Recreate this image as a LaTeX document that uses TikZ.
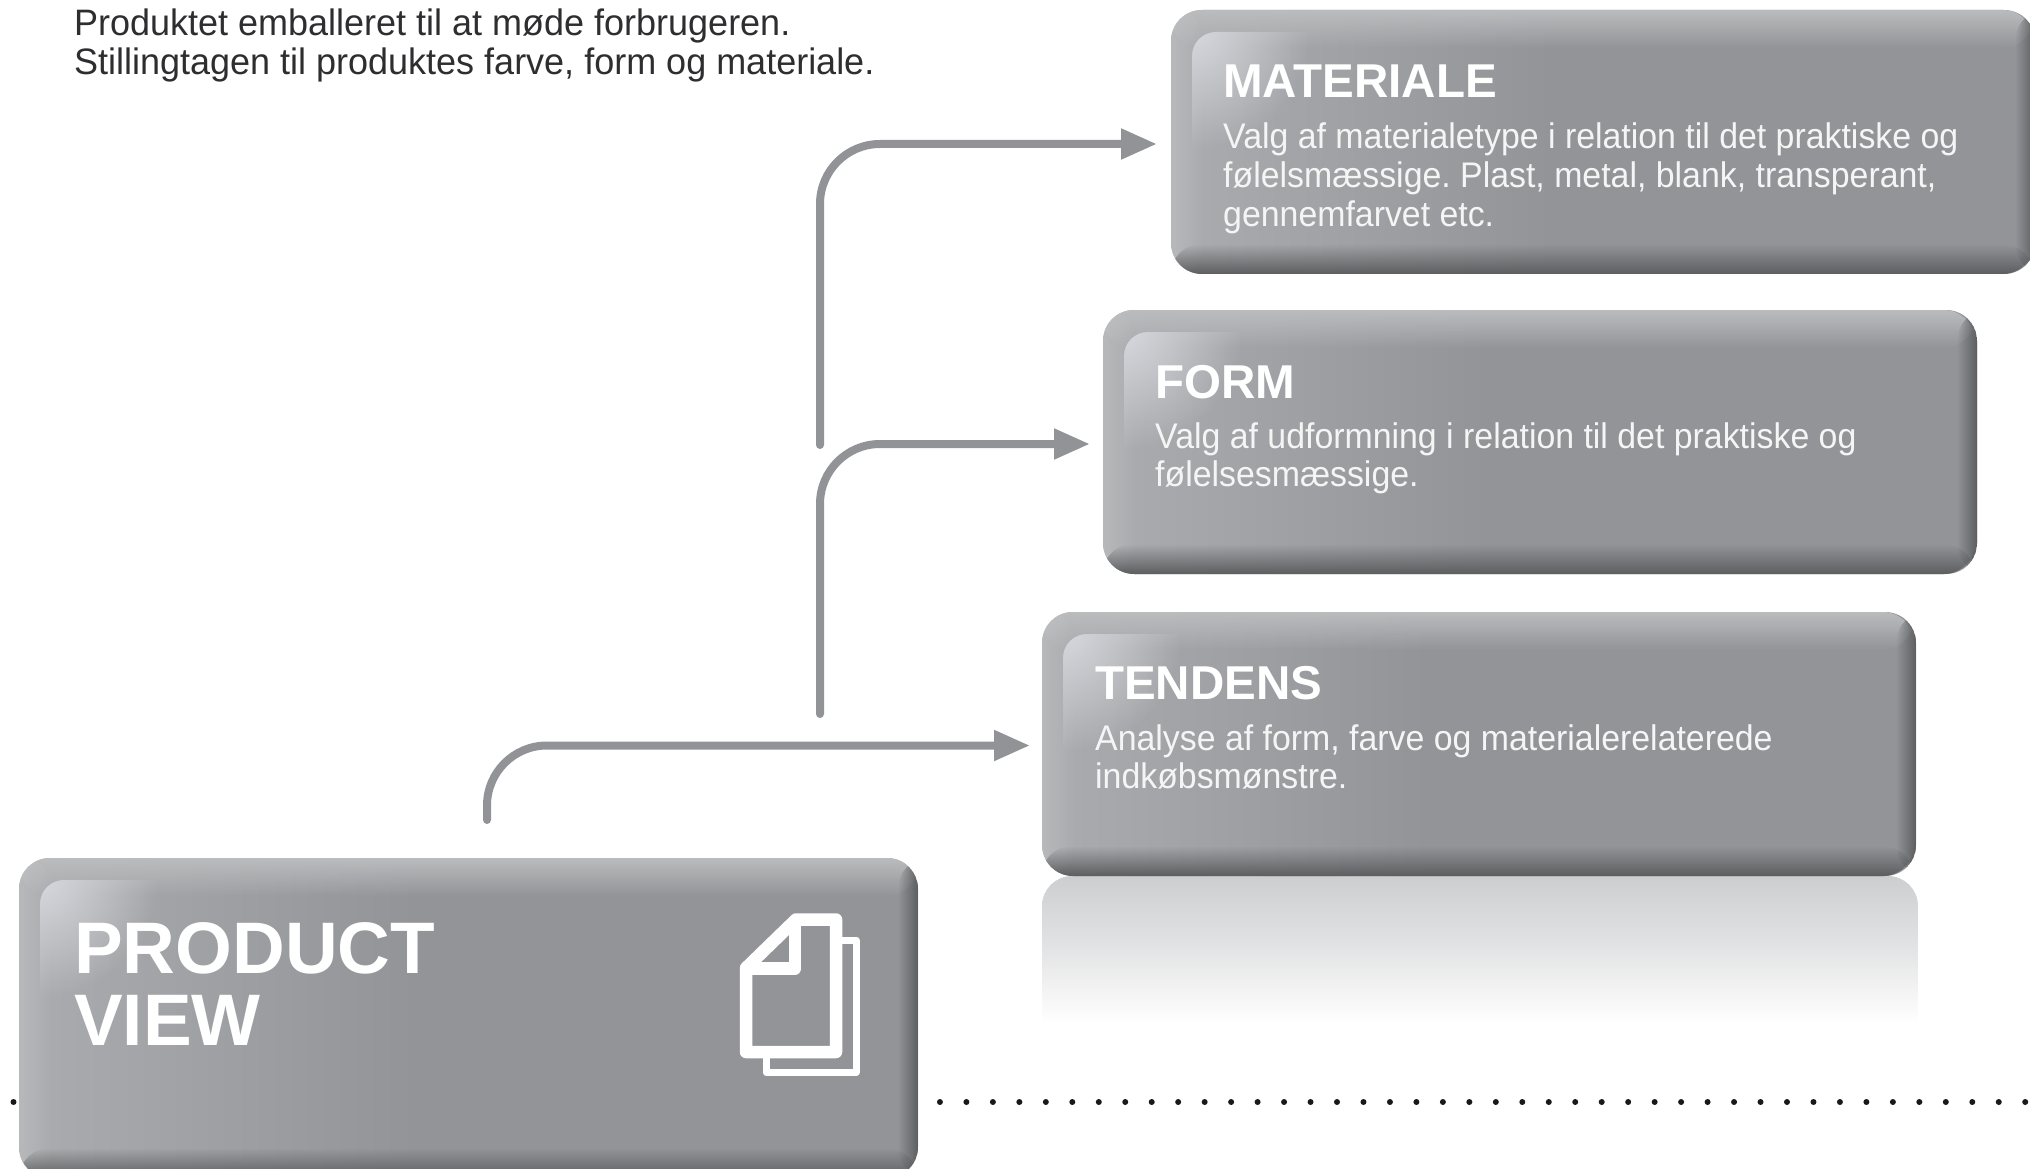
\documentclass[tikz,border=0pt]{standalone}
\usepackage{fontspec}
\setmainfont{Liberation Sans}
\newfontfamily\bodyfam[FakeStretch=0.951]{Liberation Sans}
\newfontfamily\headfam[FakeStretch=0.978]{Liberation Sans}
\usetikzlibrary{arrows.meta,fadings,calc}
\definecolor{boxlight}{HTML}{ABACAF}
\definecolor{boxmid}{HTML}{939498}
\definecolor{boxtop}{HTML}{BBBCBE}
\definecolor{boxdark}{HTML}{5D5E60}
\definecolor{boxglow}{HTML}{D6D8DD}
\definecolor{connector}{HTML}{929396}
\definecolor{reflect}{HTML}{CDCED0}
\definecolor{toptext}{HTML}{2E2E30}
\pgfdeclarehorizontalshading{boxbase}{100bp}{color(0bp)=(boxlight); color(25bp)=(boxlight); color(47bp)=(boxmid); color(100bp)=(boxmid)}
\tikzfading[name=glowfade, inner color=transparent!0, outer color=transparent!100]
\frenchspacing
\tikzset{
  x=1pt, y=-1pt,
  connline/.style={connector, line width=8pt, line cap=round, rounded corners=60pt,
    -{Triangle[length=36pt,width=29pt]}, shorten >=14pt},
  bodytext/.style={anchor=base west, inner sep=0pt, text=white!96!black, font=\bodyfam\frenchspacing\fontsize{35.6}{38.6}\selectfont},
  titletext/.style={anchor=base west, inner sep=0pt, text=white, font=\fontsize{47.5}{50}\bfseries\selectfont},
  bigtitle/.style={anchor=base west, inner sep=0pt, text=white, font=\fontsize{73}{72.5}\bfseries\selectfont},
  headtext/.style={anchor=base west, inner sep=0pt, text=toptext, font=\headfam\frenchspacing\fontsize{36.8}{38.5}\selectfont},
  glassbox/.style={anchor=north west, rounded corners=31pt, inner sep=0pt, outer sep=0pt,
    path picture={
      \path let \p1=(path picture bounding box.north west), \p2=(path picture bounding box.south east) in
        coordinate (nw) at (\p1) coordinate (se) at (\p2);
      \shade[shading=boxbase] (nw) rectangle (se);
      \fill[boxtop, path fading=south] (nw) rectangle ([yshift=-38pt]se|-nw);
      \fill[boxlight!70!white, opacity=.5, path fading=east] (nw) rectangle ([xshift=34pt]nw|-se);
      \fill[boxdark, path fading=north] ([yshift=30pt]nw|-se) rectangle (se);
      \fill[boxdark, path fading=west] ([xshift=-20pt]se|-nw) rectangle (se);
      \begin{scope}
        \clip[rounded corners=24pt] ([shift={(21pt,-22pt)}]nw) rectangle ([shift={(200pt,-200pt)}]nw);
        \fill[boxglow, path fading=glowfade] ([shift={(21pt,-22pt)}]nw) circle[radius=118pt];
      \end{scope}
    }},
}
\newcommand{\glass}[5]{\node[glassbox, minimum width=#4pt, minimum height=#5pt] (#1) at (#2,#3) {};}
\begin{document}
\begin{tikzpicture}
\useasboundingbox (0,0) rectangle (2030,1169);
% dotted rule
\draw[black!90, line width=6pt, line cap=round, dash pattern=on 0pt off 26.47pt] (13.5,1102) -- (2030,1102);
% reflection
\shade[top color=reflect, bottom color=white, middle color=reflect!55!white]
  (1042,1023) [rounded corners=30pt] -- (1042,876) -- (1918,876) [sharp corners] -- (1918,1023) -- cycle;
% boxes
\glass{materiale}{1171}{10}{864}{264}
\glass{form}{1103}{310}{874}{264}
\glass{tendens}{1042}{612}{874}{264}
\glass{pv}{19}{858}{899}{320}
% text
\node[headtext] (head) at (74,36) {\vtop{\hbox{Produktet emballeret til at møde forbrugeren.}\hbox{Stillingtagen til produktes farve, form og materiale.}}};
\node[titletext] (t1) at (1223,98) {MATERIALE};
\node[bodytext] (b1) at (1223,149) {\vtop{\hbox{Valg af materialetype i relation til det praktiske og}\hbox{følelsmæssige. Plast, metal, blank, transperant,}\hbox{gennemfarvet etc.}}};
\node[titletext] (t2) at (1155.5,398) {FORM};
\node[bodytext] (b2) at (1155,448) {\vtop{\hbox{Valg af udformning i relation til det praktiske og}\hbox{følelsesmæssige.}}};
\node[titletext] (t3) at (1095,699.5) {TENDENS};
\node[bodytext] (b3) at (1095,750) {\vtop{\hbox{Analyse af form, farve og materialerelaterede}\hbox{indkøbsmønstre.}}};
\node[bigtitle] (t4) at (74,973) {\vtop{\hbox{PRODUCT}\hbox{VIEW}}};
% icon
\draw[white, line width=7pt, line join=round] (842,940) -- (856,940) -- (856,1072.5) -- (766,1072.5) -- (766,1056);
\draw[white, line width=12.5pt, line join=round] (796,919.5) -- (836,919.5) -- (836,1052) -- (746,1052) -- (746,968) -- cycle;
\draw[white, line width=12.5pt, line join=round] (795,919.5) -- (795,968.5) -- (746,968.5);
% connectors
\coordinate (s1) at (487,820);
\coordinate (s2) at (820,714);
\coordinate (s3) at (820,445);
\draw[connline, shorten >=12pt] (s1) |- ([yshift=-1.5pt]tendens.west);
\draw[connline, shorten >=13pt] (s2) |- ([yshift=-2pt]form.west);
\draw[connline] (s3) |- ([yshift=-2pt]materiale.west);
\end{tikzpicture}
\end{document}
